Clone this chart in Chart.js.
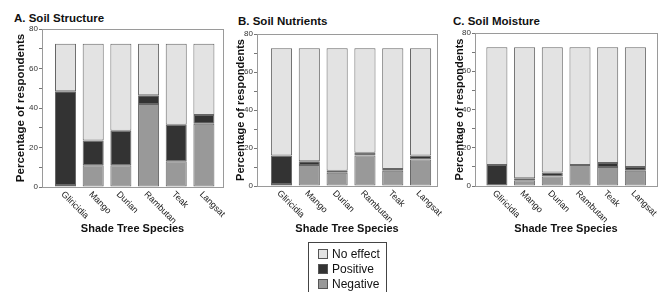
<!DOCTYPE html>
<html>
<head>
<meta charset="utf-8">
<script src="https://cdn.jsdelivr.net/npm/chart.js@4.4.1/dist/chart.umd.min.js"></script>
<style>
    html, body { margin: 0; padding: 0; background: #fff; }
    body { width: 662px; height: 292px; position: relative; overflow: hidden; font-family: "Liberation Sans", Arial, sans-serif; color: #111; }
    .panel-title { position: absolute; top: 11px; font-weight: bold; font-size: 11.5px; line-height: 14px; white-space: nowrap; }
    canvas { position: absolute; top: 0; }
    #legend { position: absolute; left: 308px; top: 242px; width: 77px; height: 48px; border: 1px solid #444; padding-top: 3px; box-sizing: content-box; }
    .legend-row { display: flex; align-items: center; height: 15px; font-size: 12px; }
    .swatch { width: 8px; height: 8px; border: 1px solid #555; margin-left: 9px; margin-right: 4px; }
</style>
</head>
<body>
<div class="panel-title" style="left:14px;top:11px">A. Soil Structure</div>
<div class="panel-title" style="left:238px;top:14px">B. Soil Nutrients</div>
<div class="panel-title" style="left:453px;top:14px">C. Soil Moisture</div>

<canvas id="chartA" width="225" height="245" style="left:0;width:225px;height:245px"></canvas>
<canvas id="chartB" width="220" height="245" style="left:225px;width:220px;height:245px"></canvas>
<canvas id="chartC" width="217" height="245" style="left:445px;width:217px;height:245px"></canvas>

<div id="legend">
    <div class="legend-row"><span class="swatch" style="background:#e3e3e3"></span>No effect</div>
    <div class="legend-row"><span class="swatch" style="background:#333333"></span>Positive</div>
    <div class="legend-row"><span class="swatch" style="background:#999999"></span>Negative</div>
</div>

<script>
(function() {
    'use strict';

    // Data (percentage of respondents)
    const species = ['Gliricidia', 'Mango', 'Durian', 'Rambutan', 'Teak', 'Langsat'];
    const yTicks = [0, 20, 40, 60, 80];

    const structureNegative = [1, 11, 11, 42, 13, 32];
    const structurePositive = [47.5, 12.5, 17.5, 4.5, 18.5, 4.5];
    const structureNoEffect = [24, 49, 44, 26, 41, 36];

    const nutrientsNegative = [1, 11, 7, 16, 8, 14];
    const nutrientsPositive = [15, 2, 1, 1.5, 1, 2];
    const nutrientsNoEffect = [56.5, 59.5, 64.5, 55, 63.5, 56.5];

    const moistureNegative = [0, 3, 5, 11, 10, 8];
    const moisturePositive = [11, 1, 2, 0, 2, 2];
    const moistureNoEffect = [61.5, 68.5, 65.5, 61.5, 60.5, 62.5];

    const COLORS = { noEffect: '#e3e3e3', positive: '#333333', negative: '#999999', border: '#666666' };
    const FONT = '"Liberation Sans", Arial, sans-serif';

    // Draws the plot frame and the slanted species labels
    const frameAndLabels = {
        id: 'frameAndLabels',
        afterDraw: function(chart) {
            const ctx = chart.ctx;
            const a = chart.chartArea;
            const x = chart.scales.x;
            ctx.save();
            ctx.strokeStyle = '#9a9a9a';
            ctx.lineWidth = 1;
            ctx.strokeRect(Math.round(a.left) + 0.5, Math.round(a.top) + 0.5, Math.round(a.right - a.left), Math.round(a.bottom - a.top));
            ctx.fillStyle = '#222';
            ctx.font = '9px ' + FONT;
            ctx.textAlign = 'left';
            ctx.textBaseline = 'middle';
            species.forEach(function(name, i) {
                ctx.save();
                ctx.translate(x.getPixelForValue(i) - 3, a.bottom + 6);
                ctx.rotate(Math.PI / 4);
                ctx.fillText(name, 0, 0);
                ctx.restore();
            });
            ctx.restore();
        }
    };

    function points(values) {
        return values.map(function(v, i) { return { x: i, y: v }; });
    }

    function makePanel(id, cfg, negative, positive, noEffect) {
        const ds = function(label, values, color) {
            return { label: label, data: points(values), backgroundColor: color, borderColor: COLORS.border,
                     borderWidth: 1, borderSkipped: false, stack: 's', categoryPercentage: 1, barPercentage: 0.76 };
        };
        return new Chart(document.getElementById(id), {
            type: 'bar',
            data: { datasets: [
                ds('Negative', negative, COLORS.negative),
                ds('Positive', positive, COLORS.positive),
                ds('No effect', noEffect, COLORS.noEffect)
            ] },
            options: {
                responsive: false, animation: false,
                layout: { padding: { left: 0, top: cfg.top, right: cfg.right, bottom: 0 } },
                plugins: { legend: { display: false }, tooltip: { enabled: false } },
                scales: {
                    x: {
                        type: 'linear', min: cfg.xMin, max: cfg.xMax, offset: false,
                        ticks: { display: false }, grid: { display: false, offset: false }, border: { display: false },
                        title: { display: true, text: 'Shade Tree Species', color: '#111',
                                 font: { family: FONT, size: 11, weight: 'bold' }, padding: { top: 0, bottom: cfg.xTitlePad } },
                        afterFit: function(s) { s.height = cfg.xHeight; }
                    },
                    y: {
                        stacked: true, min: 0, max: 80,
                        ticks: { stepSize: 10, autoSkip: false, padding: 1, color: '#333', font: { family: FONT, size: 8 },
                                 callback: function(v) { return yTicks.indexOf(v) > -1 ? v : ''; } },
                        grid: { drawOnChartArea: false, tickLength: 3, color: '#777' },
                        border: { display: false },
                        title: { display: true, text: 'Percentage of respondents', color: '#111',
                                 font: { family: FONT, size: cfg.yTitleSize, weight: 'bold' }, padding: { top: cfg.yTitlePad, bottom: 0 } },
                        afterFit: function(s) { s.width = cfg.yWidth; }
                    }
                }
            },
            plugins: [frameAndLabels]
        });
    }

    makePanel('chartA', { top: 29, right: 2, yWidth: 42, xHeight: 58, xTitlePad: 9, yTitlePad: 14, yTitleSize: 11.5, xMin: -0.85, xMax: 5.69 },
        structureNegative, structurePositive, structureNoEffect);
    makePanel('chartB', { top: 34, right: 8, yWidth: 32, xHeight: 59, xTitlePad: 9, yTitlePad: 9, yTitleSize: 11, xMin: -0.88, xMax: 5.59 },
        nutrientsNegative, nutrientsPositive, nutrientsNoEffect);
    makePanel('chartC', { top: 33, right: 5, yWidth: 30, xHeight: 59, xTitlePad: 9, yTitlePad: 8, yTitleSize: 11, xMin: -0.79, xMax: 5.78 },
        moistureNegative, moisturePositive, moistureNoEffect);
})();
</script>
</body>
</html>
